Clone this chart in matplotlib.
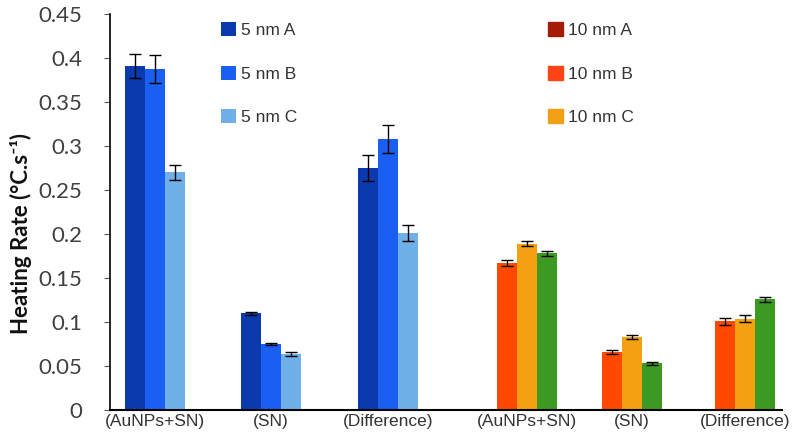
import numpy as np
import matplotlib.pyplot as plt
from matplotlib.patches import Patch

groups = ['(AuNPs+SN)', '(SN)', '(Difference)', '(AuNPs+SN)', '(SN)', '(Difference)']
group_x = [155, 271, 388, 527, 632, 745]  # layout: group centres

# 5 nm series (first three groups)
nm5_a = [0.391, 0.110, 0.275]
nm5_b = [0.388, 0.075, 0.308]
nm5_c = [0.270, 0.064, 0.201]
nm5_a_err = [0.014, 0.002, 0.015]
nm5_b_err = [0.016, 0.001, 0.016]
nm5_c_err = [0.009, 0.002, 0.009]

# 10 nm series (last three groups)
nm10_a = [0.167, 0.066, 0.101]
nm10_b = [0.189, 0.083, 0.104]
nm10_c = [0.178, 0.053, 0.126]
nm10_a_err = [0.003, 0.002, 0.004]
nm10_b_err = [0.003, 0.002, 0.004]
nm10_c_err = [0.003, 0.002, 0.003]

legend_5 = ['5 nm A', '5 nm B', '5 nm C']
legend_10 = ['10 nm A', '10 nm B', '10 nm C']

blue_cols = ['#0b3aae', '#1a5ff2', '#6fb0e8']
bar10_cols = ['#ff4800', '#f5a010', '#3c9a22']
leg10_cols = ['#a51c05', '#ff4515', '#f2a015']

fig = plt.figure(figsize=(8, 4.4), dpi=100)
ax = fig.add_axes([0.1375, 0.068, 0.84, 0.9])

w = 20
err_kw = dict(ecolor='black', capsize=4, elinewidth=1, capthick=1)
xs = np.array(group_x, dtype=float)

blue_bars = []
for i, (vals, errs) in enumerate([(nm5_a, nm5_a_err), (nm5_b, nm5_b_err), (nm5_c, nm5_c_err)]):
    b = ax.bar(xs[:3] + (i - 1) * w, vals, w, yerr=errs, color=blue_cols[i],
               error_kw=err_kw, label=legend_5[i])
    blue_bars.append(b)
for i, (vals, errs) in enumerate([(nm10_a, nm10_a_err), (nm10_b, nm10_b_err), (nm10_c, nm10_c_err)]):
    ax.bar(xs[3:] + (i - 1) * w, vals, w, yerr=errs, color=bar10_cols[i], error_kw=err_kw)

ax.set_xlim(110, 782)
ax.set_ylim(0, 0.45)
ax.set_yticks(np.arange(0, 0.46, 0.05))
ax.set_yticklabels(['0', '0.05', '0.1', '0.15', '0.2', '0.25', '0.3', '0.35', '0.4', '0.45'],
                   fontsize=16, color='#404040', family='Lato')
ax.set_xticks(xs)
ax.set_xticklabels(groups, fontsize=12.5, color='#333333', family='Liberation Sans')
ax.tick_params(axis='x', length=0, pad=3)
ax.tick_params(axis='y', length=4, width=0.8, color='#555555', pad=16)
ax.spines['top'].set_visible(False)
ax.spines['right'].set_visible(False)
ax.spines['bottom'].set_linewidth(1.5)
ax.spines['left'].set_linewidth(1.2)
ax.set_ylabel('Heating Rate (\u00b0C.s\u207b\u00b9)', fontsize=16, fontweight='bold',
              family='Lato', color='#111111')
ax.yaxis.set_label_coords(-0.116, 0.447)

leg_kw = dict(frameon=False, handlelength=0.85, handleheight=0.85,
              handletextpad=0.3, labelspacing=1.6, borderpad=0, borderaxespad=0,
              loc='upper left', prop={'family': 'Liberation Sans', 'size': 12.5})
leg1 = ax.legend(handles=blue_bars, labels=legend_5, bbox_to_anchor=(0.165, 0.98), **leg_kw)
for t in leg1.get_texts():
    t.set_color('#333333')
ax.add_artist(leg1)
proxies = [Patch(color=c) for c in leg10_cols]
leg2 = ax.legend(handles=proxies, labels=legend_10, bbox_to_anchor=(0.652, 0.98), **leg_kw)
for t in leg2.get_texts():
    t.set_color('#333333')

fig.savefig('out.png', dpi=100)
